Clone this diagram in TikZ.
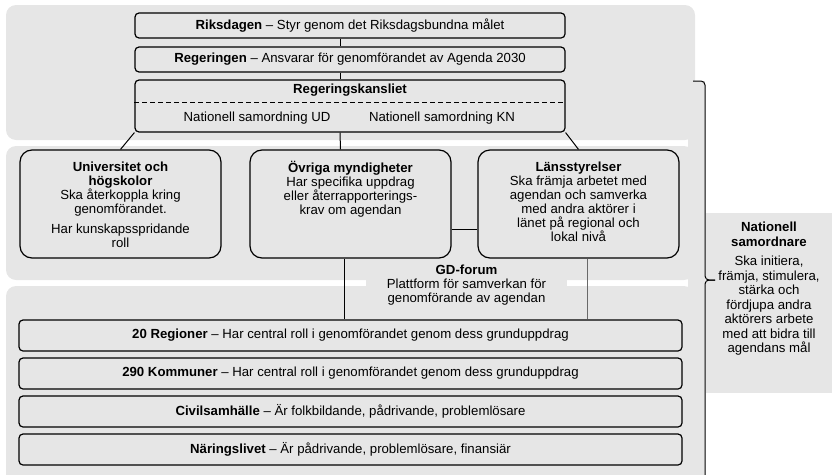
\documentclass[tikz,border=0pt]{standalone}
\usepackage{fontspec}
\setmainfont{Liberation Sans}
\usetikzlibrary{positioning}
\definecolor{panelgrey}{RGB}{230,230,230}
\definecolor{linkgrey}{RGB}{105,105,105}
\tikzset{
  panel/.style={fill=panelgrey, rounded corners=10pt},
  bar/.style={draw, line width=1.2pt, rounded corners=4pt, minimum height=25pt, minimum width=430pt, inner sep=0pt},
  lowbar/.style={draw, line width=1.2pt, rounded corners=4pt, minimum height=31pt, minimum width=663pt, inner sep=0pt},
  actor/.style={draw, line width=1.2pt, rounded corners=12pt, minimum height=108pt, minimum width=201pt, inner sep=0pt},
  txt/.style={align=center, inner sep=0pt},
  link/.style={line width=1pt},
}

\begin{document}
\begin{tikzpicture}[x=1pt, y=-1pt, font=\fontsize{13.2}{14}\selectfont]
    \useasboundingbox (0,0) rectangle (832,474);
    \clip (0,0) rectangle (832,474);

    % grey panels
    \fill[panelgrey] (688,81) rectangle (705,490);
    \fill[panel] (6,5) rectangle (695,140);
    \fill[panel] (6,146) rectangle (694,280);
    \fill[panel] (6,286) rectangle (694,490);

    % government column
    \node[bar] (riks) at (350,25.5) {\textbf{Riksdagen} -- Styr genom det Riksdagsbundna målet};
    \node[bar] (reg) at (350,59.5) {\textbf{Regeringen} -- Ansvarar för genomförandet av Agenda 2030};
    \node[bar, minimum height=52pt] (kans) at (350,106) {};
    \node[txt] (kanstitle) at (350,90) {\textbf{Regeringskansliet}};
    \node[txt] (ud) at (257,118) {Nationell samordning UD};
    \node[txt] (kn) at (442,118) {Nationell samordning KN};
    \draw[line width=1pt, dash pattern=on 5pt off 3pt]
    ([yshift=4pt]kans.west) -- ([yshift=4pt]kans.east);

    \draw[link] ([xshift=-10pt]riks.south) -- ([xshift=-10pt]reg.north);
    \draw[link] ([xshift=-10pt]reg.south) -- ([xshift=-10pt]kans.north);

    % actors
    \node[actor] (univ) at (120.5,204) {};
    \node[actor] (myn) at (350.5,204) {};
    \node[actor] (lan) at (578.5,204) {};
    \node[txt, below=12pt of univ.north] (univtxt) {\textbf{Universitet och}\\\textbf{högskolor}\\Ska återkoppla kring\\genomförandet.\\[6pt]Har kunskapsspridande\\roll};
    \node[txt, below=12pt of myn.north] (myntxt) {\textbf{Övriga myndigheter}\\Har specifika uppdrag\\eller återrapporterings-\\krav om agendan};
    \node[txt, below=12pt of lan.north] (lantxt) {\textbf{Länsstyrelser}\\Ska främja arbetet med\\agendan och samverka\\med andra aktörer i\\länet på regional och\\lokal nivå};

    \draw[link] (kans.south west) -- (univ.north);
    \draw[link] ([xshift=-10pt]kans.south) -- ([xshift=-10pt]myn.north);
    \draw[link] (kans.south east) -- (lan.north);
    \draw[link] ([yshift=-25pt]myn.east) -- ([yshift=-25pt]lan.west);

    % forum
    \node[txt, fill=panelgrey, minimum width=201pt, inner ysep=3pt] (gd) at (466.5,285)
    {\textbf{GD-forum}\\Plattform för samverkan för\\genomförande av agendan};

    % regional and local level
    \node[lowbar] (reg20) at (350.5,335.5) {\textbf{20 Regioner} -- Har central roll i genomförandet genom dess grunduppdrag};
    \node[lowbar] (kom) at (350.5,373.5) {\textbf{290 Kommuner} -- Har central roll i genomförandet genom dess grunduppdrag};
    \node[lowbar] (civ) at (350.5,411.5) {\textbf{Civilsamhälle} -- Är folkbildande, pådrivande, problemlösare};
    \node[lowbar] (nar) at (350.5,449.5) {\textbf{Näringslivet} -- Är pådrivande, problemlösare, finansiär};

    \coordinate (gdleft) at ([xshift=-6.5pt]myn.south);
    \coordinate (gdright) at ([xshift=8.5pt]lan.south);
    \draw[link] (gdleft) -- (gdleft |- reg20.north);
    \draw[link, draw=linkgrey] (gdright) -- (gdright |- reg20.north);

    % national coordinator
    \node[fill=panelgrey, minimum width=126pt, minimum height=180pt, inner sep=0pt] (nat) at (769,303) {};
    \node[txt, below=9pt of nat.north, font=\fontsize{13.2}{14.5}\selectfont] (nattxt)
    {\textbf{Nationell}\\\textbf{samordnare}\\[5pt]Ska initiera,\\främja, stimulera,\\stärka och\\fördjupa andra\\aktörers arbete\\med att bidra till\\agendans mål};

    \coordinate (bracetip) at (715,280);
    \draw[link, rounded corners=4pt] (693,81) -- (705,81) -- (705,280) -- (bracetip);
    \draw[link, rounded corners=4pt] (bracetip) -- (705,280) -- (705,490);
\end{tikzpicture}
\end{document}
